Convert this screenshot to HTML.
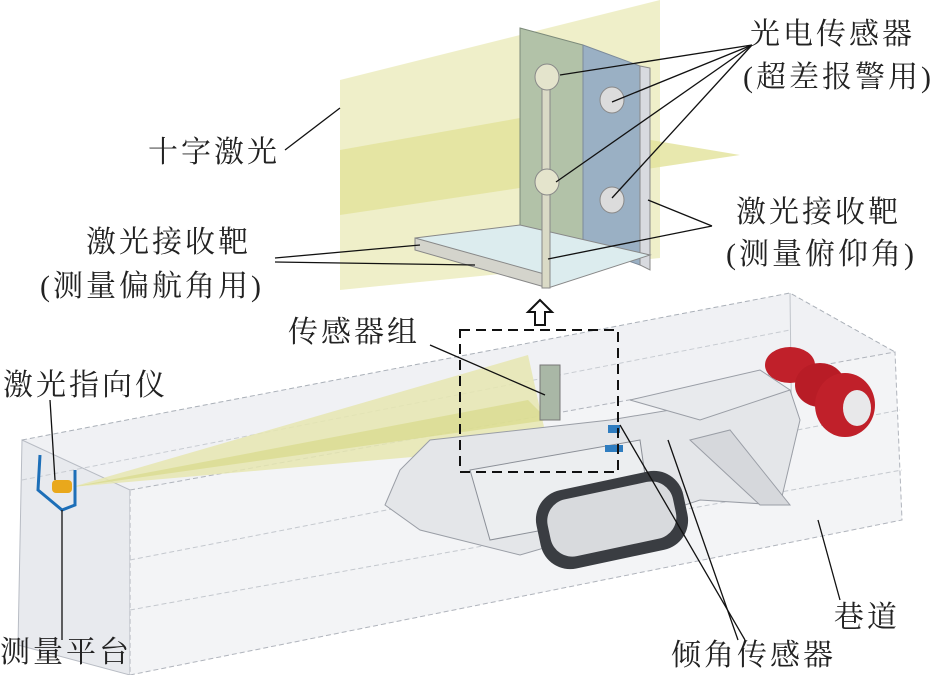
<!DOCTYPE html>
<html><head><meta charset="utf-8"><style>
html,body{margin:0;padding:0;background:#fff;}
svg{display:block}
text{font-family:"Liberation Serif","Noto Serif CJK SC",serif;font-size:30px;letter-spacing:3px;fill:#222;}
</style></head><body>
<svg width="932" height="675" viewBox="0 0 932 675" xmlns="http://www.w3.org/2000/svg">
<!-- tunnel -->
<polygon points="22,440 790,293 895,352 902,520 130,675 18,645" fill="#f0f1f4"/>
<polygon points="22,440 130,490 130,675 18,645" fill="#e8eaee" stroke="#b8bcc4" stroke-width="1"/>
<polygon points="130,490 895,352 902,520 130,675" fill="#f3f4f6" stroke="#b0b4bc" stroke-width="1" stroke-dasharray="5,3"/>
<polyline points="22,440 790,293 895,352" fill="none" stroke="#aab0b8" stroke-dasharray="5,3"/>
<line x1="790" y1="293" x2="792" y2="455" stroke="#c0c4ca"/>
<line x1="130" y1="560" x2="900" y2="410" stroke="#c4c8ce" stroke-dasharray="5,3"/>
<line x1="130" y1="610" x2="902" y2="470" stroke="#c4c8ce" stroke-dasharray="5,3"/>
<line x1="22" y1="480" x2="790" y2="330" stroke="#c8ccd2" stroke-dasharray="5,3"/>
<!-- laser cone -->
<polygon points="72,487 528,355 548,445" fill="#e6e6b0" opacity="0.85"/>
<polygon points="72,487 528,400 548,420" fill="#d8da8a" opacity="0.7"/>
<!-- machine -->
<polygon points="430,440 610,420 790,390 800,420 780,505 700,500 640,520 520,555 420,530 385,505 400,470" fill="#e4e6e9" stroke="#9a9ea6"/>
<polygon points="470,470 640,440 650,510 490,540" fill="#eceef0" stroke="#8c9098"/>
<polygon points="630,400 760,370 790,390 700,420" fill="#e8eaed" stroke="#9a9ea6"/>
<polygon points="690,440 730,430 790,505 760,505" fill="#d6d8dc" stroke="#9a9ea6"/>
<rect x="537" y="480" width="150" height="80" rx="30" transform="rotate(-12 612 520)" fill="#3a3d42"/>
<rect x="548" y="490" width="128" height="58" rx="22" transform="rotate(-12 612 520)" fill="#d8dadd"/>
<rect x="540" y="365" width="20" height="55" fill="#a9b7a6" stroke="#777"/>
<rect x="608" y="425" width="12" height="8" fill="#2f7dc0"/>
<rect x="605" y="445" width="18" height="7" fill="#2f7dc0"/>
<!-- red cutter -->
<ellipse cx="790" cy="365" rx="25" ry="18" fill="#c0202a"/>
<ellipse cx="820" cy="385" rx="25" ry="22" fill="#b81c26"/>
<ellipse cx="845" cy="405" rx="30" ry="32" fill="#c0202a"/>
<ellipse cx="857" cy="408" rx="14" ry="18" fill="#e8e8ea"/>
<!-- blue platform -->
<polyline points="40,455 38,490 62,510 75,505 75,470" fill="none" stroke="#1d6fb8" stroke-width="3"/>
<rect x="52" y="480" width="20" height="13" rx="4" fill="#e9a81c"/>
<!-- dashed box & arrow -->
<rect x="460" y="330" width="158" height="142" fill="none" stroke="#111" stroke-width="2" stroke-dasharray="10,6"/>
<polygon points="540,300 528,312 535,312 535,325 545,325 545,312 552,312" fill="#fff" stroke="#111" stroke-width="2"/>
<!-- upper planes -->
<polygon points="340,80 660,0 660,258 340,290" fill="#eeeec6" opacity="0.95"/>
<polygon points="340,150 520,118 740,155 340,215" fill="#e2e29a" opacity="0.8"/>
<polygon points="520,28 583,45 583,245 520,230" fill="#b2c2a8" stroke="#7c8a7a"/>
<polygon points="583,45 640,66 640,265 583,245" fill="#9ab0c4" stroke="#7c8a9a"/>
<polygon points="640,66 650,68 650,270 640,265" fill="#d8dadf" stroke="#888"/>
<polygon points="415,238 520,225 650,255 548,288" fill="#dcecee" stroke="#888"/>
<polygon points="415,238 548,275 548,288 415,250" fill="#d4d4cc" stroke="#888"/>
<rect x="542" y="80" width="8" height="208" fill="#dadac6" stroke="#888"/>
<ellipse cx="547" cy="77" rx="12" ry="13" fill="#e4e4cc" stroke="#888"/>
<ellipse cx="547" cy="182" rx="12" ry="13" fill="#e4e4cc" stroke="#888"/>
<ellipse cx="612" cy="100" rx="12" ry="13" fill="#dcdcdc" stroke="#888"/>
<ellipse cx="612" cy="200" rx="12" ry="13" fill="#dcdcdc" stroke="#888"/>
<!-- leaders -->
<g stroke="#111" stroke-width="1.3" fill="none">
<line x1="285" y1="150" x2="340" y2="108"/>
<line x1="752" y1="45" x2="560" y2="75"/>
<line x1="752" y1="45" x2="612" y2="102"/>
<line x1="752" y1="45" x2="556" y2="182"/>
<line x1="752" y1="45" x2="612" y2="198"/>
<line x1="712" y1="226" x2="648" y2="200"/>
<line x1="712" y1="226" x2="548" y2="259"/>
<line x1="275" y1="258" x2="420" y2="245"/>
<line x1="275" y1="262" x2="475" y2="265"/>
<line x1="430" y1="345" x2="545" y2="395"/>
<line x1="50" y1="400" x2="55" y2="480"/>
<line x1="62" y1="510" x2="62" y2="640"/>
<line x1="840" y1="600" x2="818" y2="520"/>
<line x1="745" y1="640" x2="620" y2="425"/>
<line x1="738" y1="640" x2="668" y2="440"/>
</g>
<!-- labels -->
<text x="148" y="162">十字激光</text>
<text x="750" y="44">光电传感器</text>
<text x="743" y="87">(超差报警用)</text>
<text x="736" y="222">激光接收靶</text>
<text x="726" y="264">(测量俯仰角)</text>
<text x="86" y="252">激光接收靶</text>
<text x="40" y="296">(测量偏航角用)</text>
<text x="288" y="342">传感器组</text>
<text x="3" y="395">激光指向仪</text>
<text x="0" y="662">测量平台</text>
<text x="834" y="627">巷道</text>
<text x="671" y="665">倾角传感器</text>
</svg>
</body></html>
